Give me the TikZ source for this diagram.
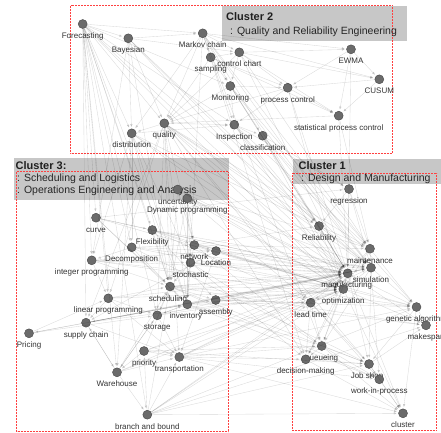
\documentclass[tikz,border=0pt]{standalone}
\usepackage{fontspec}
\setmainfont{Liberation Sans}
\usetikzlibrary{arrows.meta}

\begin{document}
\begin{tikzpicture}
  [x=1pt,y=-1pt,
   vtx/.style={circle,fill=black!58,draw=black!72,line width=.4pt,minimum size=9pt,inner sep=0pt},
   lbl/.style={font=\fontsize{8}{9}\selectfont,text=black!80,inner sep=.5pt,text height=6pt,text depth=1.7pt},
   every label/.style={lbl},
   label distance=3.2pt,
   link/.style={draw=black,opacity=.15,line width=.35pt,-{Latex[length=3pt,width=2.4pt]},shorten >=1.5pt},
   redbox/.style={draw=red!75,densely dotted,line width=.5pt},
   graybox/.style={fill=black!22},
   title/.style={font=\fontsize{11}{12}\selectfont\bfseries,text=black!88,anchor=west,inner sep=0pt},
   subtitle/.style={font=\fontsize{10.5}{12}\selectfont,text=black!85,anchor=west,inner sep=0pt}]
  \useasboundingbox (0,0) rectangle (441,432);
  \clip (0,0) rectangle (441,432);

  % cluster boxes
  \fill[graybox] (222,6) rectangle (407,40.5);
  \fill[graybox] (14,157.5) rectangle (228.5,200);
  \fill[graybox] (293,158.5) rectangle (441,184);
  \draw[redbox] (70.5,5.5) rectangle (392,153);
  \draw[redbox] (16.5,171.5) rectangle (228,431.5);
  \draw[redbox] (292.5,173) rectangle (436.5,430.5);

  \node[title] (c2) at (226,17) {Cluster 2};
  \node[subtitle] (c2a) at (230,31.5) {: Quality and Reliability Engineering};
  \node[title] (c3) at (15.5,165.5) {Cluster 3:};
  \node[subtitle] (c3a) at (17,179) {: Scheduling and Logistics};
  \node[subtitle] (c3b) at (17,191) {: Operations Engineering and Analysis};
  \node[title] (c1) at (298.5,165.5) {Cluster 1};
  \node[subtitle] (c1a) at (301,179) {: Design and Manufacturing};

  % cluster 2
  \node[vtx,label=below:Forecasting] (fore) at (82.7,24) {};
  \node[vtx,label=below:Bayesian] (bayes) at (128.3,38.3) {};
  \node[vtx,label=below:Markov chain] (markov) at (202.7,33.3) {};
  \node[vtx,label=below:sampling] (sampl) at (210.7,57.3) {};
  \node[vtx,label=below:control chart] (ctrl) at (239.3,52.3) {};
  \node[vtx,label=below:EWMA] (ewma) at (351,49.3) {};
  \node[vtx,label=below:CUSUM] (cusum) at (379.3,79.3) {};
  \node[vtx,label=below:Monitoring] (monit) at (230.3,86) {};
  \node[vtx,label=below:process control] (proc) at (287.7,87.7) {};
  \node[vtx,label=below:statistical process control] (spc) at (338.7,115.7) {};
  \node[vtx,label=below:quality] (qual) at (164.3,123.3) {};
  \node[vtx,label=below:distribution] (distr) at (131.7,133.3) {};
  \node[vtx,label=below:Inspection] (insp) at (234.3,124.7) {};
  \node[vtx,label=below:classification] (class) at (262.7,135.7) {};

  % cluster 3
  \node[vtx,label=below:uncertainty] (uncert) at (177.7,189.5) {};
  \node[vtx,label=below:Dynamic programming] (dynprog) at (187.3,198.3) {};
  \node[vtx,label=below:curve] (curve) at (96,217.7) {};
  \node[vtx,label=below:Flexibility] (flex) at (152.3,230) {};
  \node[vtx,label=below:Decomposition] (decomp) at (131.7,247.3) {};
  \node[vtx,label=below:integer programming] (intprog) at (91.7,260.3) {};
  \node[vtx,label=below:network] (network) at (194.3,245) {};
  \node[vtx,label=below:Location] (loc) at (216,251) {};
  \node[vtx,label=below:stochastic] (stoch) at (190.5,262.7) {};
  \node[vtx,label={[xshift=-2pt]below:scheduling}] (sched) at (170,286.5) {};
  \node[vtx,label={[xshift=-1.5pt]below:inventory}] (invent) at (187.3,304.3) {};
  \node[vtx,label=below:assembly] (assem) at (215.7,300) {};
  \node[vtx,label=below:linear programming] (linprog) at (108.3,298.3) {};
  \node[vtx,label=below:storage] (storage) at (157.3,315.3) {};
  \node[vtx,label=below:supply chain] (supply) at (86,322.7) {};
  \node[vtx,label=below:Pricing] (pricing) at (29,333.3) {};
  \node[vtx,label=below:priority] (prior) at (144,351) {};
  \node[vtx,label=below:transportation] (transp) at (179.3,357) {};
  \node[vtx,label=below:Warehouse] (wareh) at (117,372.3) {};
  \node[vtx,label=below:branch and bound] (bnb) at (147.3,414.7) {};

  % cluster 1
  \node[vtx,label=below:regression] (regr) at (349,189) {};
  \node[vtx,label=below:Reliability] (reliab) at (319,226) {};
  \node[vtx,label=below:maintenance] (maint) at (370,248.7) {};
  \node[vtx,label=below:simulation] (simul) at (371,267.7) {};
  \node[vtx,label={[xshift=-1pt]below:manufacturing}] (manuf) at (347.7,273.3) {};
  \node[vtx,label=below:optimization] (optim) at (343.3,289) {};
  \node[vtx,label=below:lead time] (lead) at (310.7,302.7) {};
  \node[vtx,label=below:genetic algorithm] (genetic) at (416.5,307) {};
  \node[vtx,label=below:makespan] (makesp) at (426,325.3) {};
  \node[vtx,label=below:queueing] (queue) at (321.7,346) {};
  \node[vtx,label=below:decision-making] (decis) at (305.7,359.3) {};
  \node[vtx,label={[xshift=-2pt]below:Job shop}] (jobshop) at (369,364) {};
  \node[vtx,label=below:work-in-process] (wip) at (379.3,379.3) {};
  \node[vtx,label=below:cluster] (cluster) at (403,413.3) {};

  \foreach \from/\to in {fore/bayes,fore/markov,fore/distr,fore/qual,fore/sched,fore/invent,fore/supply,fore/linprog,fore/intprog,fore/storage,
    fore/manuf,fore/optim,fore/simul,fore/insp,fore/monit,fore/decomp,fore/wareh,fore/bnb,fore/curve,fore/flex,
    bayes/markov,bayes/distr,bayes/qual,bayes/manuf,bayes/reliab,bayes/simul,bayes/sched,bayes/intprog,bayes/ctrl,
    markov/ctrl,markov/sampl,markov/monit,markov/ewma,markov/cusum,markov/manuf,markov/maint,markov/simul,markov/qual,markov/distr,markov/invent,markov/decis,markov/queue,
    sampl/insp,sampl/qual,sampl/ctrl,sampl/monit,sampl/spc,sampl/proc,
    ctrl/ewma,ctrl/cusum,ctrl/proc,ctrl/spc,ctrl/monit,ctrl/qual,ctrl/manuf,ctrl/maint,
    ewma/cusum,ewma/spc,ewma/proc,ewma/manuf,cusum/spc,cusum/proc,
    monit/proc,monit/insp,monit/class,monit/manuf,monit/maint,monit/qual,monit/reliab,monit/simul,
    proc/spc,proc/manuf,proc/optim,proc/qual,proc/insp,spc/manuf,spc/maint,spc/qual,
    qual/distr,qual/insp,qual/manuf,qual/maint,qual/optim,qual/simul,qual/reliab,qual/sched,qual/invent,qual/storage,qual/transp,qual/network,qual/supply,qual/decis,qual/lead,qual/jobshop,qual/linprog,
    distr/insp,distr/manuf,distr/optim,distr/sched,distr/invent,distr/decomp,distr/intprog,distr/reliab,distr/stoch,distr/wareh,
    insp/class,insp/manuf,insp/maint,insp/optim,insp/reliab,insp/regr,
    class/manuf,class/optim,class/regr,class/genetic,class/simul,
    uncert/manuf,uncert/optim,uncert/stoch,uncert/network,uncert/dynprog,uncert/maint,uncert/sched,
    dynprog/sched,dynprog/invent,dynprog/optim,dynprog/manuf,dynprog/simul,dynprog/stoch,dynprog/network,dynprog/lead,
    curve/flex,curve/sched,curve/manuf,curve/optim,curve/invent,curve/regr,
    flex/manuf,flex/sched,flex/optim,flex/network,flex/simul,flex/lead,flex/assem,
    decomp/sched,decomp/optim,decomp/intprog,decomp/network,decomp/loc,decomp/manuf,decomp/jobshop,
    intprog/linprog,intprog/sched,intprog/optim,intprog/manuf,intprog/loc,intprog/stoch,intprog/genetic,
    network/loc,network/optim,network/manuf,network/maint,network/simul,network/stoch,network/reliab,network/queue,
    loc/optim,loc/manuf,loc/transp,loc/supply,loc/simul,loc/genetic,
    stoch/sched,stoch/optim,stoch/manuf,stoch/simul,stoch/invent,stoch/queue,stoch/decis,
    sched/invent,sched/optim,sched/manuf,sched/genetic,sched/makesp,sched/jobshop,sched/wip,sched/assem,sched/storage,sched/simul,
    invent/assem,invent/supply,invent/manuf,invent/optim,invent/simul,invent/wip,invent/lead,invent/queue,invent/storage,
    assem/manuf,assem/optim,assem/simul,assem/genetic,assem/makesp,assem/lead,
    linprog/supply,linprog/storage,linprog/sched,linprog/optim,linprog/manuf,linprog/transp,
    storage/transp,storage/wareh,storage/manuf,storage/optim,storage/invent,
    supply/pricing,supply/invent,supply/manuf,supply/optim,supply/transp,supply/wareh,supply/simul,
    pricing/linprog,pricing/invent,pricing/storage,
    prior/sched,prior/manuf,prior/optim,prior/queue,prior/jobshop,prior/transp,prior/wareh,
    transp/optim,transp/manuf,transp/simul,transp/genetic,transp/decis,transp/queue,transp/cluster,transp/wip,
    wareh/bnb,wareh/storage,wareh/manuf,wareh/optim,wareh/transp,wareh/sched,wareh/supply,
    bnb/sched,bnb/optim,bnb/manuf,bnb/genetic,bnb/jobshop,bnb/makesp,bnb/transp,bnb/prior,bnb/cluster,bnb/lead,
    regr/reliab,regr/maint,regr/manuf,regr/simul,reliab/maint,reliab/manuf,reliab/simul,reliab/optim,
    maint/simul,maint/manuf,maint/optim,maint/genetic,simul/manuf,simul/optim,simul/queue,simul/jobshop,simul/wip,simul/genetic,
    manuf/optim,manuf/lead,manuf/queue,manuf/decis,manuf/jobshop,manuf/genetic,manuf/makesp,manuf/cluster,
    optim/lead,optim/genetic,optim/makesp,optim/queue,optim/decis,optim/cluster,
    lead/queue,lead/decis,lead/wip,lead/jobshop,genetic/makesp,genetic/jobshop,genetic/cluster,
    queue/decis,queue/jobshop,queue/wip,queue/cluster,decis/jobshop,decis/cluster,jobshop/wip,jobshop/cluster,jobshop/makesp,wip/cluster}
    \draw[link] (\from) -- (\to);

\end{tikzpicture}
\end{document}
